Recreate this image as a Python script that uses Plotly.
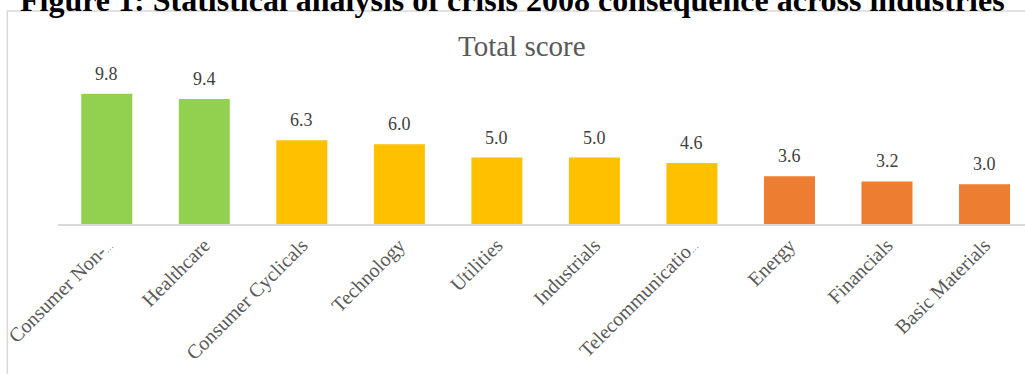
import plotly.graph_objects as go

# Sector scores (total score after the 2008 crisis)
categories = [
    "Consumer Non-Cyclicals", "Healthcare", "Consumer Cyclicals", "Technology",
    "Utilities", "Industrials", "Telecommunications Services", "Energy",
    "Financials", "Basic Materials",
]
ELLIPSIS = "<span style='font-size:9px'>…</span>"
tick_labels = [
    "Consumer Non-" + ELLIPSIS, "Healthcare", "Consumer Cyclicals", "Technology",
    "Utilities", "Industrials", "Telecommunicatio" + ELLIPSIS, "Energy",
    "Financials", "Basic Materials",
]
scores = [9.8, 9.4, 6.3, 6.0, 5.0, 5.0, 4.6, 3.6, 3.2, 3.0]
groups = ["high", "high", "mid", "mid", "mid", "mid", "mid", "low", "low", "low"]

group_colors = {"high": "#92D050", "mid": "#FFC000", "low": "#ED7D31"}
bar_colors = [group_colors[g] for g in groups]

W, H = 1025, 374
ML, MR, MT, MB = 57.7, 0, 38, 150
PW, PH = W - ML - MR, H - MT - MB
SERIF = "Liberation Serif, Times New Roman, serif"


def px_x(x):
    return (x - ML) / PW


def px_y(y):
    return (H - MB - y) / PH


xs = list(range(len(categories)))

fig = go.Figure(
    go.Bar(
        x=xs,
        y=scores,
        marker=dict(color=bar_colors, line=dict(width=0)),
        hovertext=categories,
        hoverinfo="text+y",
    )
)

# value labels above each bar
value_labels = [
    dict(
        x=x, y=v, xref="x", yref="y", text=f"{v:.1f}",
        xanchor="center", yanchor="bottom", yshift=8, showarrow=False,
        font=dict(family=SERIF, size=18, color="#404040"),
    )
    for x, v in zip(xs, scores)
]

fig.update_layout(
    width=W,
    height=H,
    margin=dict(l=ML, r=MR, t=MT, b=MB, pad=0, autoexpand=False),
    paper_bgcolor="white",
    plot_bgcolor="white",
    bargap=0.477,
    showlegend=False,
    font=dict(family=SERIF, color="#595959"),
    xaxis=dict(
        range=[-0.5, 9.415],
        tickmode="array",
        tickvals=xs,
        ticktext=tick_labels,
        tickangle=-45,
        tickfont=dict(family=SERIF, size=20, color="#595959"),
        ticklabeloverflow="allow",
        automargin=False,
        showline=True,
        linecolor="#D9D9D9",
        linewidth=1.5,
        ticks="",
        showgrid=False,
        zeroline=False,
    ),
    yaxis=dict(
        range=[0, 14],
        visible=False,
        automargin=False,
        showgrid=False,
        zeroline=False,
    ),
    shapes=[
        dict(
            type="rect", xref="paper", yref="paper",
            x0=px_x(7), x1=px_x(1040), y0=px_y(400), y1=px_y(11),
            line=dict(color="#D9D9D9", width=1.5),
            fillcolor="rgba(0,0,0,0)", layer="below",
        )
    ],
    annotations=value_labels + [
        dict(
            text="Total score", xref="paper", yref="paper",
            x=px_x(522), y=px_y(64), xanchor="center", yanchor="bottom",
            showarrow=False,
            font=dict(family=SERIF, size=29, color="#595959"),
        ),
        dict(
            text="<b>Figure 1: Statistical analysis of crisis 2008 consequence across industries</b>",
            xref="paper", yref="paper",
            x=px_x(512), y=px_y(20.5), xanchor="center", yanchor="bottom",
            showarrow=False,
            font=dict(family=SERIF, size=32, color="#000000"),
        ),
    ],
)

fig.write_html("out.html")
